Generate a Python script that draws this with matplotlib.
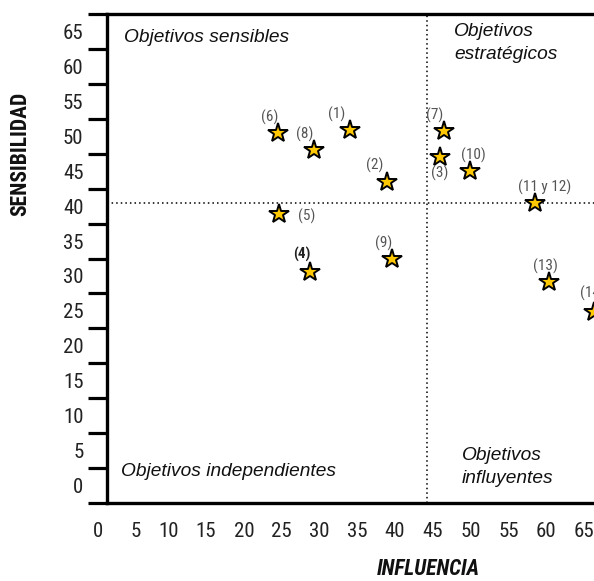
import matplotlib
matplotlib.use("Agg")
import matplotlib.pyplot as plt
import matplotlib.transforms as mtransforms
from matplotlib.ticker import FixedLocator

# ---- data ----
labels = ["(1)", "(2)", "(3)", "(4)", "(5)", "(6)", "(7)", "(8)", "(9)", "(10)",
          "(11 y 12)", "(13)", "(14)"]
influencia = [32.1, 37.0, 44.0, 26.8, 22.8, 22.6, 44.6, 27.4, 37.7, 48.0, 56.6, 58.5, 64.4]
sensibilidad = [50.9, 43.5, 47.1, 30.6, 38.8, 50.5, 50.7, 48.0, 32.4, 45.0, 40.4, 29.1, 24.9]
x_ticks = list(range(0, 70, 5))
y_ticks = list(range(0, 70, 5))
x_divider = 42.4
y_divider = 40.5
quadrants = ["Objetivos sensibles", "Objetivos\nestratégicos",
             "Objetivos independientes", "Objetivos\ninfluyentes"]

# ---- layout / style ----
W, H, DPI = 5.94, 5.81, 100
fig = plt.figure(figsize=(W, H), dpi=DPI)
ax = fig.add_axes([107 / 594, 78 / 581, 529 / 594, 489 / 581])
ax.set_xlim(0, 70)
ax.set_ylim(-2.5, 67.5)

narrow = ["Roboto Condensed", "Archivo Narrow", "DejaVu Sans"]
narrow_bold = ["Roboto Condensed", "DejaVu Sans"]
regular = ["Liberation Sans", "DejaVu Sans"]

for s in ["left", "bottom", "top"]:
    ax.spines[s].set_linewidth(2.4)
ax.spines["right"].set_visible(False)

# tick marks (minor) and labels (major)
ax.xaxis.set_minor_locator(FixedLocator(list(range(0, 75, 5))))
ax.yaxis.set_minor_locator(FixedLocator([v - 2.5 for v in range(0, 75, 5)]))
ax.set_xticks(x_ticks)
ax.set_yticks(y_ticks)
ax.set_xticklabels([str(v) for v in x_ticks])
ax.set_yticklabels([str(v) for v in y_ticks])
ax.tick_params(axis="x", which="minor", length=9.4, width=2.3, direction="out", color="black")
ax.tick_params(axis="y", which="minor", length=13.7, width=2.3, direction="out", color="black")
ax.tick_params(axis="both", which="major", length=0, labelsize=15, colors="#222222")
ax.tick_params(axis="y", which="major", pad=17)
ax.tick_params(axis="x", which="major", pad=14)
off = mtransforms.ScaledTranslation(-4 / 100, 0, fig.dpi_scale_trans)
for lab in ax.get_xticklabels():
    lab.set_fontfamily(narrow)
    lab.set_horizontalalignment("right")
    lab.set_transform(lab.get_transform() + off)
for lab in ax.get_yticklabels():
    lab.set_fontfamily(narrow)

# divider lines
ax.axhline(y_divider, color="black", lw=1.1, ls=(0, (1, 2)), zorder=1)
ax.axvline(x_divider, color="black", lw=1.1, ls=(0, (1, 2)), zorder=1)

# stars
ax.plot(influencia, sensibilidad, ls="none", marker="*", ms=15, mfc="#FFC800",
        mec="black", mew=1.4, zorder=3, clip_on=False)

# point labels (offsets in pixels)
offsets = {"(1)": (-13, 16), "(2)": (-12, 16), "(3)": (0, -17), "(4)": (-8, 17),
           "(5)": (27, -2), "(6)": (-8, 15), "(7)": (-9, 16), "(8)": (-9, 16),
           "(9)": (-8, 16), "(10)": (4, 16), "(11 y 12)": (10, 16),
           "(13)": (-4, 16), "(14)": (-1, 18)}
for lab, xv, yv in zip(labels, influencia, sensibilidad):
    dx, dy = offsets[lab]
    bold = lab == "(4)"
    ax.annotate(lab, (xv, yv), xytext=(dx * 0.72, dy * 0.72), textcoords="offset points",
                ha="center", va="center", fontsize=11, family=narrow,
                color="#222222" if bold else "#555555",
                fontweight="bold" if bold else "normal", annotation_clip=False)

# quadrant labels (figure pixel positions)
def ftext(px, py, s, **kw):
    fig.text(px / 594, 1 - py / 581, s, **kw)

qkw = dict(fontsize=13.8, family=regular, style="italic", color="#111111", va="center")
ftext(124, 37, quadrants[0], ha="left", **qkw)
ftext(454, 43, quadrants[1], ha="left", linespacing=1.48, **qkw)
ftext(121, 472, quadrants[2], ha="left", **qkw)
ftext(462, 467, quadrants[3], ha="left", linespacing=1.52, **qkw)

# axis titles
ftext(20, 154, "SENSIBILIDAD", rotation=90, ha="center", va="center",
      fontsize=15.5, family=narrow_bold, fontweight="bold", color="#111111")
ftext(428, 569, "INFLUENCIA", ha="center", va="center",
      fontsize=15.5, family=narrow_bold, fontweight="bold", style="italic", color="#111111")

fig.savefig("out.png", dpi=DPI)
